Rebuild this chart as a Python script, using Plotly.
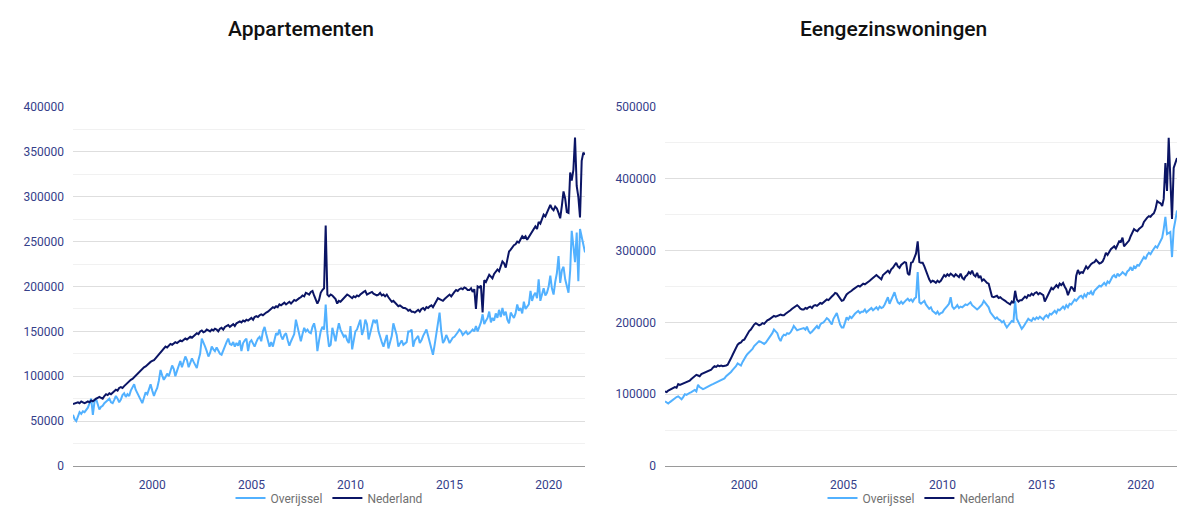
import pandas as pd
import plotly.graph_objects as go

# Monthly dates Jan 1996 - Nov 2021
dates = pd.date_range("1996-01-01", periods=311, freq="MS")

# Values in thousands of euros
nl_app = [
    69,70,70,71,70,72,71,70,71,72,71,73,
    72,74,75,76,77,76,75,78,80,79,81,80,
    82,83,85,84,87,88,87,89,91,93,94,96,
    97,99,101,103,104,106,108,110,111,113,114,116,
    117,118,120,122,124,127,128,131,133,132,134,136,
    135,137,138,137,139,140,139,141,142,141,143,144,
    143,145,146,148,147,150,151,149,150,152,151,150,
    152,151,153,152,150,153,154,152,155,156,157,155,
    157,158,156,159,160,161,160,162,161,163,162,164,
    165,163,166,167,166,168,169,168,170,171,172,174,
    175,177,176,178,177,180,179,181,182,180,182,183,
    181,183,185,184,186,187,188,190,189,193,192,191,
    194,195,190,186,181,185,193,196,198,268,191,189,
    191,190,188,186,181,184,183,185,187,189,191,190,
    188,187,189,188,190,189,191,193,194,195,191,192,
    193,194,192,191,190,191,193,190,191,189,191,188,
    186,183,184,182,180,178,179,177,176,176,175,173,
    174,172,172,171,173,174,172,175,176,174,177,176,
    178,179,177,180,183,187,186,185,184,186,188,190,
    191,189,192,194,196,195,197,198,197,199,198,196,
    196,198,194,197,175,200,199,201,171,207,205,210,
    213,211,209,214,216,219,217,224,228,226,221,230,
    239,241,244,246,247,250,249,253,256,254,256,252,
    255,259,262,265,267,264,272,270,276,280,278,283,
    288,291,287,285,289,287,282,276,290,306,298,283,
    282,327,318,330,366,312,300,277,340,349,347,
]

ov_app = [
    57,52,50,55,60,58,61,60,63,65,70,75,
    57,72,75,68,63,66,67,70,72,74,75,71,
    70,74,78,75,71,74,79,81,77,80,78,84,
    87,91,85,81,78,74,70,76,82,80,86,91,
    84,78,83,87,95,107,101,96,99,103,100,106,
    112,108,100,106,113,117,110,115,122,118,110,115,
    120,116,112,109,118,125,142,138,133,128,122,126,
    133,130,128,132,128,125,124,129,135,138,142,136,
    135,138,133,137,134,140,128,137,140,142,128,138,
    140,137,133,138,142,144,139,150,155,147,138,133,
    138,133,140,148,146,152,145,141,146,148,140,134,
    139,143,147,163,155,145,139,147,154,150,152,149,
    148,155,159,150,128,140,150,155,152,180,148,133,
    135,154,147,139,150,159,152,148,144,146,140,137,
    156,130,140,150,152,158,163,146,152,163,158,141,
    148,155,163,160,163,150,143,138,133,140,146,131,
    138,145,159,152,146,133,137,140,135,136,138,150,
    150,152,133,140,143,145,137,140,145,148,152,145,
    137,130,124,135,146,155,171,150,137,140,146,142,
    137,140,143,144,146,149,152,150,146,148,150,147,
    148,150,152,150,156,150,154,160,169,158,162,165,
    172,160,165,162,170,165,174,166,176,168,172,163,
    159,171,168,165,170,180,173,176,170,183,175,178,
    180,195,184,190,193,187,208,184,192,198,190,193,
    200,212,198,191,205,215,234,204,218,222,208,200,
    193,218,262,245,227,260,206,264,255,248,238,
]

nl_eg = [
    104,103,105,106,107,108,110,109,114,113,114,115,
    116,117,118,119,121,123,125,127,126,125,128,129,
    130,131,132,133,134,137,139,138,140,139,140,139,
    139,140,141,145,150,155,160,164,169,171,172,175,
    176,180,185,188,190,194,197,199,198,196,197,199,
    198,201,203,204,206,207,209,208,209,210,211,210,
    210,212,214,216,217,219,221,223,224,222,219,218,
    218,220,219,221,222,220,223,224,223,225,227,226,
    228,229,232,231,234,236,238,241,240,236,233,230,
    231,236,239,241,242,244,246,248,250,251,250,252,
    254,253,255,256,258,260,262,265,266,264,262,260,
    266,268,270,272,269,274,276,280,283,278,276,280,
    282,284,283,268,266,283,284,290,296,313,284,283,
    283,278,272,267,260,256,258,257,255,258,256,258,
    262,266,264,267,265,268,266,264,267,265,263,268,
    262,260,264,266,270,268,272,266,264,269,262,265,
    258,260,257,255,254,245,236,235,236,237,234,235,
    233,232,230,228,226,225,229,227,244,232,229,231,
    231,233,236,234,238,237,240,238,241,242,239,241,
    240,238,229,234,240,244,248,246,250,252,249,254,
    252,255,250,246,238,244,250,247,243,265,273,268,
    270,269,273,278,275,279,281,283,284,287,285,282,
    283,285,290,297,294,299,302,304,306,303,308,313,
    312,318,306,309,311,314,320,324,330,328,327,330,
    332,334,340,344,346,348,347,350,352,358,369,367,
    366,362,372,422,383,457,390,344,415,422,429,
]

ov_eg = [
    90,88,87,89,91,92,94,96,97,95,93,96,
    100,99,101,102,103,104,106,104,113,110,108,107,
    108,109,110,111,113,114,115,117,118,119,120,121,
    122,125,127,128,131,134,136,139,143,141,140,145,
    150,153,156,158,160,163,167,169,171,174,173,171,
    170,172,175,178,181,185,190,188,185,178,174,180,
    183,182,185,184,186,190,195,192,189,190,191,192,
    192,190,194,188,185,187,190,193,195,191,197,199,
    200,203,206,204,200,197,205,210,213,205,197,193,
    193,200,207,204,208,206,210,212,214,216,213,215,
    215,218,214,216,218,220,217,219,221,218,222,220,
    221,225,230,235,226,232,238,242,234,228,226,229,
    226,229,231,233,230,232,229,233,235,270,228,226,
    228,230,225,222,219,221,216,214,212,215,211,213,
    214,218,220,223,226,235,222,219,221,224,220,222,
    221,223,225,224,226,228,224,222,221,218,220,223,
    225,230,227,224,221,214,210,208,205,207,204,203,
    200,202,197,193,196,199,202,201,230,205,200,196,
    191,194,197,200,205,203,202,206,204,207,205,208,
    206,204,208,210,207,212,211,214,216,213,218,217,
    220,222,219,224,221,226,225,229,232,230,234,236,
    237,234,239,236,241,240,243,238,244,246,248,251,
    250,253,255,252,257,255,260,264,266,262,268,265,
    267,270,268,266,271,273,277,272,278,276,280,279,
    283,287,291,288,294,297,295,299,302,306,304,308,
    312,318,330,347,323,324,326,291,330,342,356,
]

titles = ["Appartementen", "Eengezinswoningen"]
series_names = ["Overijssel", "Nederland"]
year_ticks = ["2000", "2005", "2010", "2015", "2020"]

C_OV = "#52B1FF"
C_NL = "#0B1565"
TICK_C = "#35408A"

fig = go.Figure()

def k(v):
    return [x * 1000 for x in v]

fig.add_trace(go.Scatter(x=dates, y=k(ov_app), name=series_names[0], mode="lines",
                         line=dict(color=C_OV, width=2), xaxis="x", yaxis="y", legend="legend"))
fig.add_trace(go.Scatter(x=dates, y=k(nl_app), name=series_names[1], mode="lines",
                         line=dict(color=C_NL, width=2), xaxis="x", yaxis="y", legend="legend"))
fig.add_trace(go.Scatter(x=dates, y=k(ov_eg), name=series_names[0], mode="lines",
                         line=dict(color=C_OV, width=2), xaxis="x2", yaxis="y2", legend="legend2"))
fig.add_trace(go.Scatter(x=dates, y=k(nl_eg), name=series_names[1], mode="lines",
                         line=dict(color=C_NL, width=2), xaxis="x2", yaxis="y2", legend="legend2"))

W, H = 1200, 522
ydom = [(H - 466) / H, (H - 107) / H]

xcommon = dict(
    type="date",
    range=[dates[0], dates[-1]],
    tickvals=[pd.Timestamp(y + "-01-01") for y in year_ticks],
    ticktext=year_ticks,
    showgrid=False, zeroline=False,
    showline=True, linecolor="#9a9a9a", linewidth=1,
    ticks="", ticklabelstandoff=8,
    tickfont=dict(family="Roboto", size=12, color=TICK_C),
    fixedrange=True, automargin=False,
)
ycommon = dict(
    showgrid=True, gridcolor="#dedede", gridwidth=1,
    zeroline=False, showline=False, ticks="",
    tickformat="d", ticklabelstandoff=8, automargin=False,
    tickfont=dict(family="Roboto", size=12, color=TICK_C),
)

fig.update_layout(
    width=W, height=H,
    margin=dict(l=0, r=0, t=0, b=0, autoexpand=False),
    paper_bgcolor="white", plot_bgcolor="white",
    xaxis=dict(domain=[73 / W, 585 / W], anchor="y", **xcommon),
    yaxis=dict(domain=ydom, anchor="x", range=[0, 400000], dtick=50000,
               minor=dict(dtick=25000, showgrid=True, gridcolor="#f1f1f1"), **ycommon),
    xaxis2=dict(domain=[665 / W, 1177 / W], anchor="y2", **xcommon),
    yaxis2=dict(domain=ydom, anchor="x2", range=[0, 500000], dtick=100000,
                minor=dict(dtick=50000, showgrid=True, gridcolor="#f1f1f1"), **ycommon),
    legend=dict(orientation="h", x=329 / W, xanchor="center", y=(H - 498) / H, yanchor="middle",
                font=dict(family="Roboto", size=12, color="#707070"), itemwidth=30,
                bgcolor="rgba(0,0,0,0)"),
    legend2=dict(orientation="h", x=921 / W, xanchor="center", y=(H - 498) / H, yanchor="middle",
                 font=dict(family="Roboto", size=12, color="#707070"), itemwidth=30,
                 bgcolor="rgba(0,0,0,0)"),
    annotations=[
        dict(text=titles[0], x=301 / W, y=(H - 29) / H, xref="paper", yref="paper",
             showarrow=False, xanchor="center", yanchor="middle",
             font=dict(family="Roboto", size=21, color="#111111", weight=500)),
        dict(text=titles[1], x=893 / W, y=(H - 29) / H, xref="paper", yref="paper",
             showarrow=False, xanchor="center", yanchor="middle",
             font=dict(family="Roboto", size=21, color="#111111", weight=500)),
    ],
    hovermode="x unified",
)

fig.write_html("out.html")
